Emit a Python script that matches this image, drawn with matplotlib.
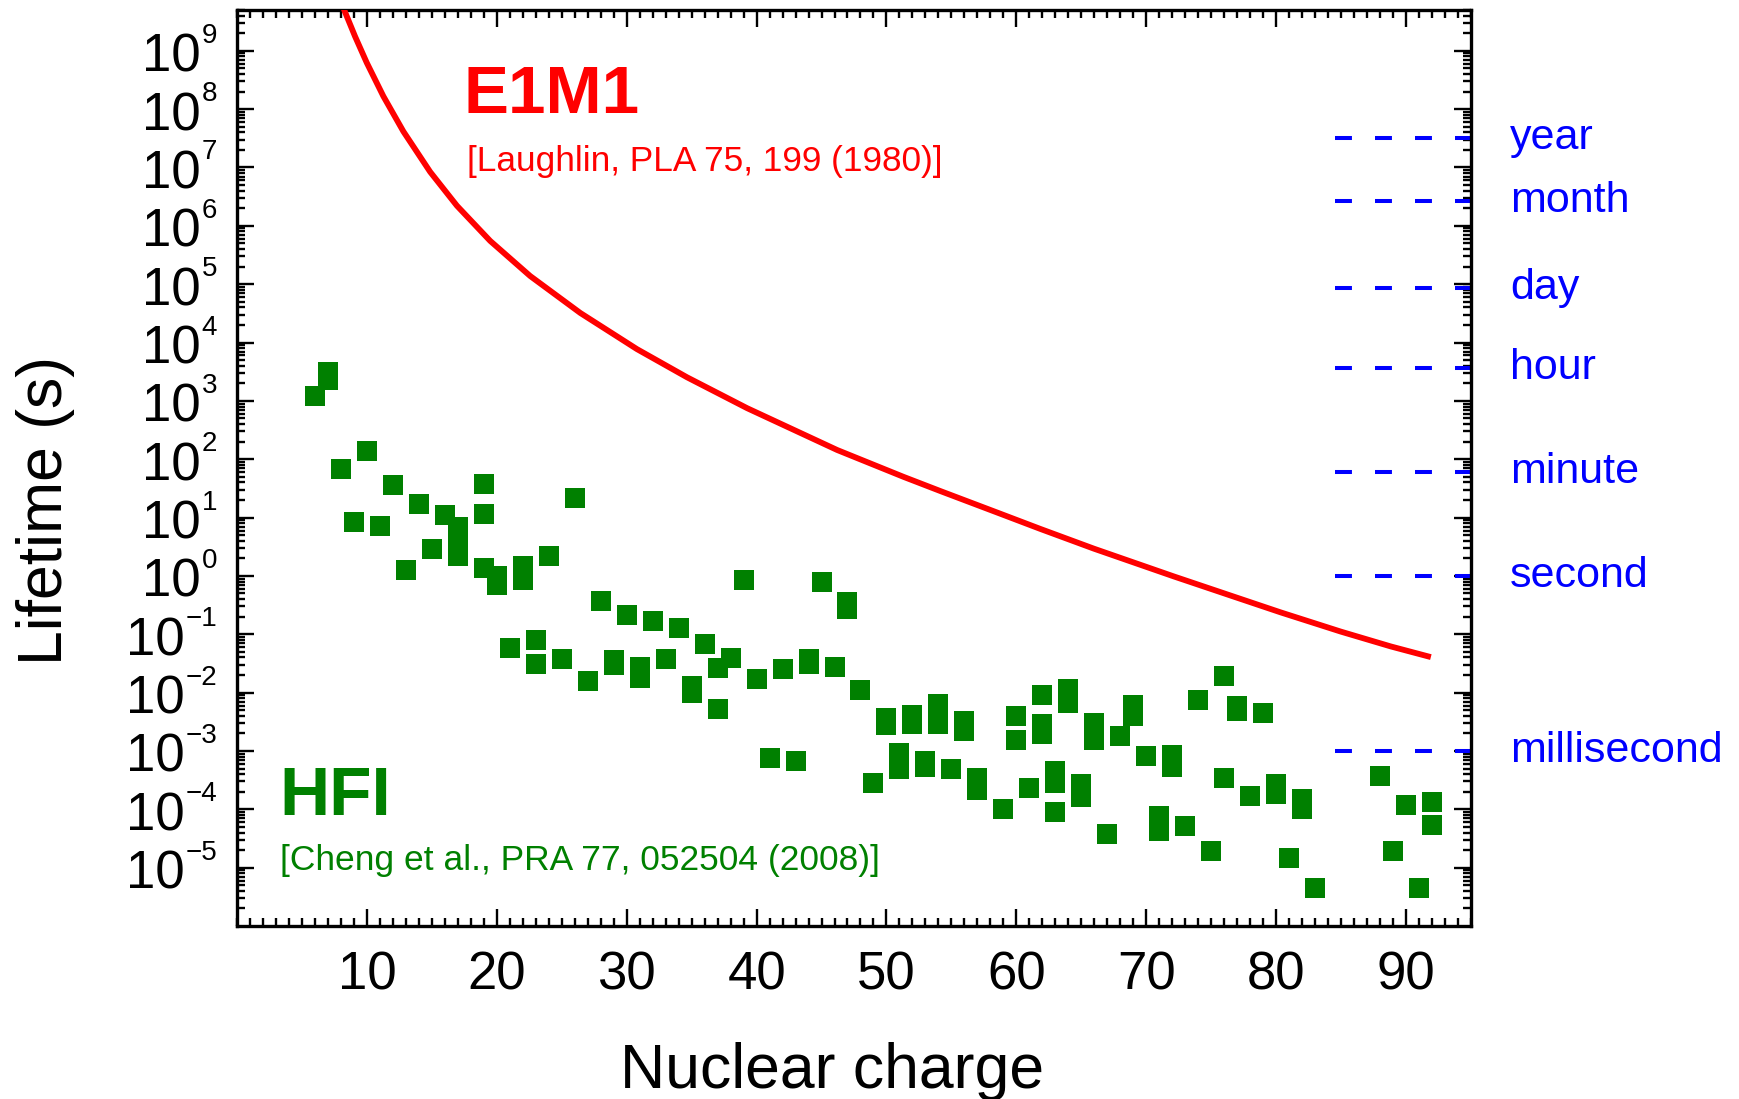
import matplotlib
matplotlib.use('Agg')
import matplotlib.pyplot as plt
from matplotlib.ticker import FixedLocator, NullFormatter, LogLocator, MultipleLocator
from matplotlib.transforms import blended_transform_factory

plt.rcParams['font.family'] = ['Liberation Sans', 'DejaVu Sans']
plt.rcParams['lines.scale_dashes'] = False

# ---------------- data ----------------
# E1M1 lifetime curve (Laughlin 1980)
e1m1_Z = [8.19, 9.09, 9.99, 11.27, 12.81, 14.87, 16.93, 19.49, 22.57, 26.43,
          30.79, 34.64, 39.27, 46.2, 51.33, 54.16, 58.78, 61.86, 65.97, 72.14,
          76.76, 80.35, 84.98, 88.83, 91.91]
e1m1_tau = [5.42e9, 1.76e9, 6.24e8, 1.66e8, 4.14e7, 8.41e6, 2.21e6, 5.52e5, 1.38e5, 3.21e4,
            7.71e3, 2.54e3, 750, 144, 49.7, 28.4, 11.6, 6.37, 2.93, 0.977,
            0.440, 0.237, 0.111, 0.0618, 0.0406]

# HFI lifetimes (Cheng et al. 2008)
hfi_Z = [6, 7, 7, 8, 9, 10, 11, 12, 13, 14, 15, 16, 17, 17, 17,
         19, 19, 19, 20, 20, 21, 22, 22, 23, 23, 24, 25, 26, 27, 28,
         29, 29, 30, 31, 31, 32, 33, 34, 35, 35, 36, 37, 37, 38, 39,
         40, 41, 42, 43, 44, 44, 45, 46, 47, 47, 48, 49, 50, 50, 51,
         51, 52, 52, 53, 53, 54, 54, 55, 56, 56, 57, 57, 59, 60, 60,
         61, 62, 62, 62, 63, 63, 63, 64, 64, 65, 65, 66, 66, 67, 68,
         69, 69, 70, 71, 71, 72, 72, 73, 74, 75, 76, 76, 77, 77, 78,
         79, 80, 80, 81, 82, 82, 83, 88, 89, 90, 91, 92, 92]
hfi_tau = [1.21e3, 3.1e3, 2.3e3, 68, 8.5, 137, 7.1, 36, 1.26, 17, 2.85, 11, 6.9, 4.7, 2.2,
           38, 11.5, 1.38, 1.0, 0.69, 0.059, 1.49, 0.84, 0.080, 0.0307, 2.2, 0.0373, 21.5, 0.0157, 0.376,
           0.036, 0.030, 0.214, 0.0275, 0.0177, 0.169, 0.038, 0.130, 0.013, 0.010, 0.069, 0.026, 0.0053, 0.039, 0.85,
           0.0174, 7.55e-4, 0.025, 6.6e-4, 0.0378, 0.0307, 0.79, 0.028, 0.36, 0.27, 0.011, 2.8e-4, 3.6e-3, 2.77e-3, 9.4e-4,
           5.0e-4, 4.2e-3, 2.9e-3, 6.7e-4, 5.4e-4, 6.5e-3, 2.9e-3, 4.95e-4, 3.3e-3, 2.2e-3, 3.4e-4, 2.1e-4, 1.0e-4, 4.0e-3, 1.55e-3,
           2.3e-4, 9.2e-3, 2.95e-3, 1.97e-3, 4.45e-4, 2.8e-4, 8.9e-5, 0.0115, 6.7e-3, 2.67e-4, 1.64e-4, 3.0e-3, 1.55e-3, 3.8e-5, 1.82e-3,
           6.2e-3, 4.0e-3, 8.2e-4, 7.55e-5, 4.25e-5, 8.5e-4, 5.3e-4, 5.1e-5, 7.6e-3, 1.95e-5, 0.0196, 3.4e-4, 5.8e-3, 4.9e-3, 1.66e-4,
           4.4e-3, 2.67e-4, 1.8e-4, 1.48e-5, 1.48e-4, 1.0e-4, 4.4e-6, 3.7e-4, 1.95e-5, 1.17e-4, 4.4e-6, 1.35e-4, 5.45e-5]

# reference time units
unit_names = ['year', 'month', 'day', 'hour', 'minute', 'second', 'millisecond']
unit_seconds = [3.156e7, 2.63e6, 8.64e4, 3.6e3, 60.0, 1.0, 1e-3]
unit_line_start = 84.5

xtick_values = [10, 20, 30, 40, 50, 60, 70, 80, 90]
xtick_labels = ['10', '20', '30', '40', '50', '60', '70', '80', '90']
ytick_exponents = list(range(-5, 10))

# ---------------- figure ----------------
fig = plt.figure(figsize=(17.39, 10.99), dpi=100)
ax = fig.add_axes([0.13628, 0.15742, 0.70960, 0.83349])
ax.set_yscale('log')
ax.set_xlim(0, 95)
ax.set_ylim(1e-6, 5e9)

RED = '#ff0000'
GREEN = '#008000'
BLUE = '#0000ff'

ax.plot(e1m1_Z, e1m1_tau, color=RED, lw=4.2, solid_capstyle='butt',
        solid_joinstyle='round', zorder=3)
ax.plot(hfi_Z, hfi_tau, ls='none', marker='s', ms=13.9, mfc=GREEN, mec=GREEN,
        mew=0, zorder=4)

ytrans = blended_transform_factory(ax.transAxes, ax.transData)
for name, t in zip(unit_names, unit_seconds):
    ax.plot([unit_line_start, 95], [t, t], color=BLUE, lw=2.9,
            dashes=(12.2, 16.6), dash_capstyle='butt', clip_on=False, zorder=2)
    ax.text(1.0316, t, name, transform=ytrans, fontsize=31, color=BLUE,
            ha='left', va='center', clip_on=False)

# ticks
for sp in ax.spines.values():
    sp.set_linewidth(2.4)
ax.xaxis.set_major_locator(FixedLocator(xtick_values))
ax.set_xticklabels(xtick_labels)
ax.xaxis.set_minor_locator(MultipleLocator(1))
ax.yaxis.set_major_locator(FixedLocator([10.0 ** k for k in ytick_exponents]))
ax.yaxis.set_minor_locator(LogLocator(base=10, subs=[2, 3, 4, 5, 6, 7, 8, 9], numticks=100))
ax.yaxis.set_major_formatter(NullFormatter())
ax.yaxis.set_minor_formatter(NullFormatter())
ax.tick_params(which='both', direction='in', top=True, right=True, width=1.7, color='black')
ax.tick_params(which='major', length=12)
ax.tick_params(which='minor', length=5.5)
ax.tick_params(axis='x', which='major', labelsize=38, pad=18)

# y tick labels as 10 with superscript exponent
for k in ytick_exponents:
    exp_txt = '\u2212' + str(-k) if k < 0 else str(k)
    e = ax.annotate(exp_txt, xy=(0, 10.0 ** k), xycoords=ytrans,
                    xytext=(-20, 8), textcoords='offset pixels',
                    ha='right', va='baseline', fontsize=20,
                    annotation_clip=False)
    ax.annotate('10', xy=(0, 0), xycoords=e, xytext=(-1, -23),
                textcoords='offset pixels', ha='right', va='baseline',
                fontsize=38, annotation_clip=False)

ax.set_xlabel('Nuclear charge', fontsize=45)
ax.xaxis.set_label_coords(0.482, -0.127)
ax.set_ylabel('Lifetime (s)', fontsize=45)
ax.yaxis.set_label_coords(-0.1315, 0.454)

# annotations
ax.text(0.1832, 0.887, 'E1M1', transform=ax.transAxes, fontsize=48.5,
        fontweight='bold', color=RED, ha='left', va='baseline')
ax.text(0.1864, 0.8246, '[Laughlin, PLA 75, 199 (1980)]', transform=ax.transAxes,
        fontsize=25.4, color=RED, ha='left', va='baseline')
ax.text(0.0340, 0.1212, 'HFI', transform=ax.transAxes, fontsize=50,
        fontweight='bold', color=GREEN, ha='left', va='baseline')
ax.text(0.0348, 0.0611, '[Cheng et al., PRA 77, 052504 (2008)]', transform=ax.transAxes,
        fontsize=25.5, color=GREEN, ha='left', va='baseline')

fig.savefig('out.png', dpi=100)
